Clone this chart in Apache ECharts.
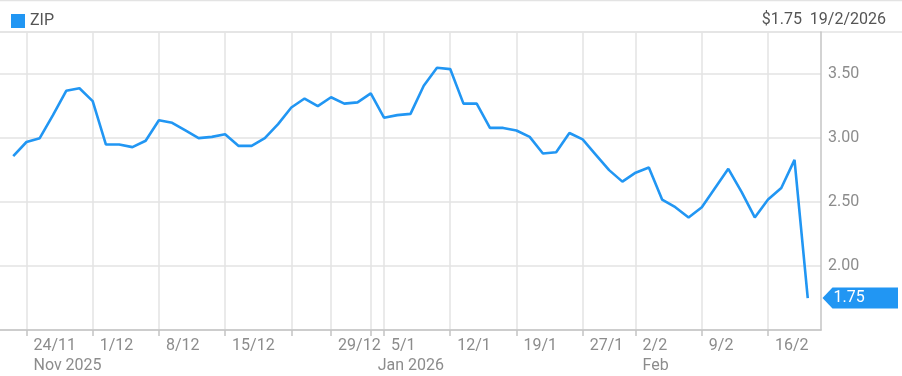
<!DOCTYPE html>
<html>
<head>
<meta charset="utf-8">
<script src="https://cdn.jsdelivr.net/npm/echarts@6/dist/echarts.min.js"></script>
<style>html,body{margin:0;padding:0;background:#fff;}#c{width:902px;height:376px;}</style>
</head>
<body>
<div id="c"></div>
<script>
var seriesName = 'ZIP';
var dates = ['20/11','21/11','24/11','25/11','26/11','27/11','28/11',
  '1/12','2/12','3/12','4/12','5/12','8/12','9/12','10/12','11/12','12/12',
  '15/12','16/12','17/12','18/12','19/12','22/12','23/12','24/12','29/12','30/12','31/12',
  '2/1','5/1','6/1','7/1','8/1','9/1','12/1','13/1','14/1','15/1','16/1',
  '19/1','20/1','21/1','22/1','23/1','27/1','28/1','29/1','30/1',
  '2/2','3/2','4/2','5/2','6/2','9/2','10/2','11/2','12/2','13/2','16/2','17/2','18/2','19/2','20/2'];
var prices = [null,2.86,2.97,3.00,3.18,3.37,3.39,
  3.29,2.95,2.95,2.93,2.98,3.14,3.12,3.06,3.00,3.01,
  3.03,2.94,2.94,3.00,3.11,3.24,3.31,3.25,3.32,3.27,3.28,
  3.35,3.16,3.18,3.19,3.41,3.55,3.54,3.27,3.27,3.08,3.08,
  3.06,3.01,2.88,2.89,3.04,2.99,2.87,2.75,2.66,
  2.73,2.77,2.52,2.46,2.38,2.46,2.61,2.76,2.58,2.38,2.52,2.61,2.83,1.75,null];
var tickDates  = ['24/11','1/12','8/12','15/12','22/12','29/12','2/1','5/1','12/1','19/1','27/1','2/2','9/2','16/2'];
var tickLabels = ['24/11','1/12','8/12','15/12','','29/12','','5/1','12/1','19/1','27/1','2/2','9/2','16/2'];
var monthDates  = ['24/11','2/1','2/2'];
var monthLabels = ['Nov 2025','Jan 2026','Feb'];
var yTicks = [2.00, 2.50, 3.00, 3.50];
var lastPrice = 1.75;
var lastDate = '19/2/2026';

var LINE = '#2196f3';
var chart = echarts.init(document.getElementById('c'), null, {renderer:'canvas'});
function isTick(idx){ return tickDates.indexOf(dates[idx]) >= 0; }
function isMonth(idx){ return monthDates.indexOf(dates[idx]) >= 0; }
var labelBase = {align:'left', margin:8, padding:[0,0,0,7], fontFamily:'Roboto', fontSize:16, color:'#8c8c8c'};
var option = {
  animation:false,
  backgroundColor:'#fff',
  textStyle:{fontFamily:'Roboto'},
  legend:{left:6, top:8, itemWidth:14, itemHeight:14, icon:'rect', itemGap:6,
    textStyle:{fontFamily:'Roboto', fontSize:16, color:'#555'}, data:[seriesName]},
  title:{text:'$' + lastPrice.toFixed(2) + '  ' + lastDate, right:11, top:7,
    textStyle:{fontFamily:'Roboto', fontSize:16, fontWeight:'normal', color:'#555'}},
  grid:{left:0, right:81, top:32, bottom:46},
  xAxis:[{type:'category', data:dates, boundaryGap:false,
    axisLine:{show:true, lineStyle:{color:'#c4c4c4', width:1.5}},
    axisTick:{show:true, length:6, interval:function(i){return isTick(i);}, lineStyle:{color:'#c4c4c4', width:1.5}},
    splitLine:{show:true, interval:function(i){return isTick(i);}, lineStyle:{color:'#e3e3e3', width:1.5}},
    axisLabel:Object.assign({}, labelBase, {interval:function(i){return isTick(i);},
      formatter:function(v){ var k = tickDates.indexOf(v); return k >= 0 ? tickLabels[k] : ''; }})
  },{type:'category', data:dates, boundaryGap:false, position:'bottom', offset:20,
    axisLine:{show:false}, axisTick:{show:false}, splitLine:{show:false},
    axisLabel:Object.assign({}, labelBase, {interval:function(i){return isMonth(i);},
      formatter:function(v){ var m = monthDates.indexOf(v); return m >= 0 ? monthLabels[m] : ''; }})
  }],
  yAxis:{type:'value', position:'right', min:1.5, max:3.83, interval:0.5, scale:true,
    axisLine:{show:true, lineStyle:{color:'#c4c4c4', width:1.5}},
    axisTick:{show:false},
    splitLine:{show:true, lineStyle:{color:'#e3e3e3', width:1.5}},
    axisLabel:{showMinLabel:false, showMaxLabel:false, margin:7, fontFamily:'Roboto', fontSize:16, color:'#8c8c8c',
      formatter:function(v){ return yTicks.indexOf(Math.round(v*100)/100) >= 0 ? v.toFixed(2) : ''; }}
  },
  series:[{name:seriesName, type:'line', xAxisIndex:0, data:prices, symbol:'none', smooth:false,
    itemStyle:{color:LINE}, lineStyle:{color:LINE, width:2.6}}]
};
chart.setOption(option);
var p = chart.convertToPixel({xAxisIndex:0, yAxisIndex:0}, [dates.length-1, lastPrice]);
var ax = p[0] + 1.5, ay = p[1];
chart.setOption({graphic:[
  {type:'line', shape:{x1:0,y1:0.5,x2:902,y2:0.5}, style:{stroke:'#e3e3e3', lineWidth:1.5}, silent:true},
  {type:'line', shape:{x1:0,y1:32,x2:902,y2:32}, style:{stroke:'#e3e3e3', lineWidth:1.5}, silent:true},
  {type:'polygon', shape:{points:[[ax,ay],[ax+10,ay-10.5],[898,ay-10.5],[898,ay+10.5],[ax+10,ay+10.5]]},
    style:{fill:LINE}, silent:true, z:100},
  {type:'text', x:ax+11, y:ay, style:{text:lastPrice.toFixed(2), fill:'#fff', font:'16px Roboto', verticalAlign:'middle', align:'left'}, z:101}
]});
</script>
</body>
</html>
